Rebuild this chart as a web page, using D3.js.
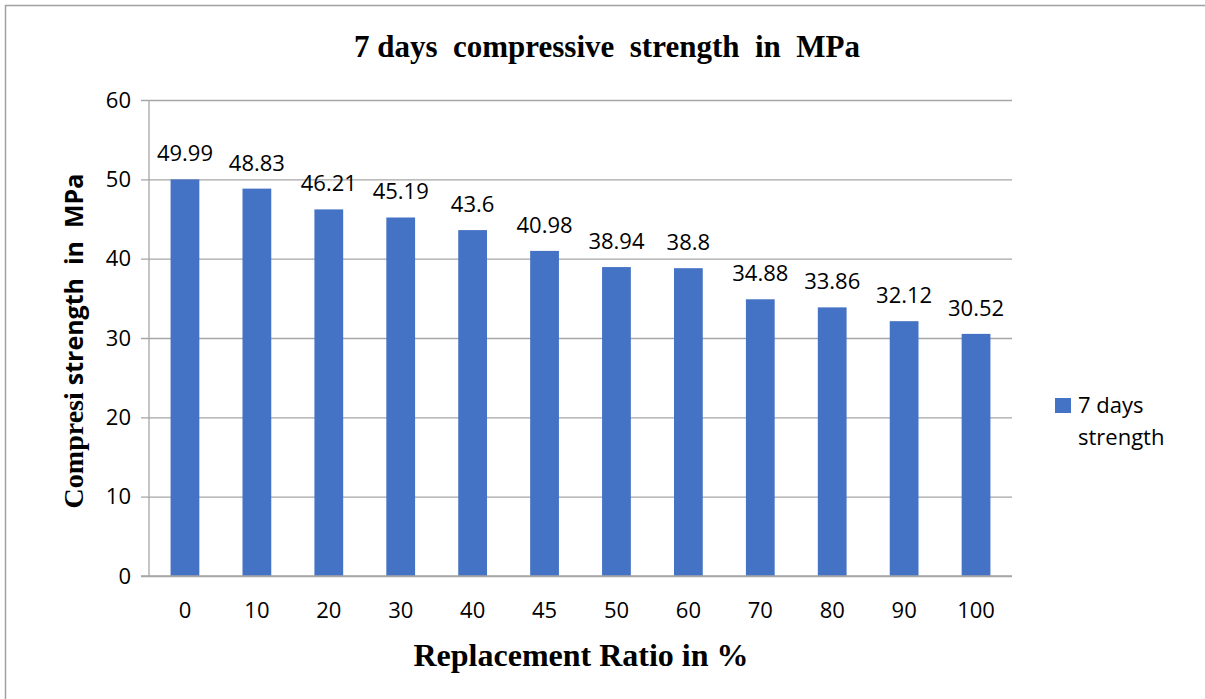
<!DOCTYPE html>
<html>
<head>
<meta charset="utf-8">
<script src="https://cdn.jsdelivr.net/npm/d3@7"></script>
<style>
  body { margin: 0; background: #fff; }
  svg { display: block; }
  text { white-space: pre; }
</style>
</head>
<body>
<div id="chart"></div>
<script>
const width = 1205;
const height = 699;
const margin = { top: 100, right: 193, bottom: 123, left: 149 };

const ratios = ["0", "10", "20", "30", "40", "45", "50", "60", "70", "80", "90", "100"];
const strength = [49.99, 48.83, 46.21, 45.19, 43.6, 40.98, 38.94, 38.8, 34.88, 33.86, 32.12, 30.52];
const yTicks = [0, 10, 20, 30, 40, 50, 60];
const seriesName = ["7 days", "strength"];

const data = ratios.map((r, i) => ({ ratio: r, value: strength[i] }));

const barColor = "#4472C4";
const gridColor = "#a6a6a6";
const sansFont = "'Open Sans', 'Liberation Sans', sans-serif";
const serifFont = "'Liberation Serif', 'Times New Roman', serif";
const labelSize = 22;

const svg = d3.select("#chart")
    .append("svg")
    .attr("width", width)
    .attr("height", height);

// outer frame (only top and left edges visible)
svg.append("path")
    .attr("d", `M5.5,${height} V5.5 H${width}`)
    .attr("fill", "none")
    .attr("stroke", "#a0a0a0")
    .attr("stroke-width", 1.5);

const x = d3.scaleBand()
    .domain(ratios)
    .range([margin.left, width - margin.right])
    .paddingInner(0.6)
    .paddingOuter(0.3);

const y = d3.scaleLinear()
    .domain([0, 60])
    .range([height - margin.bottom, margin.top]);

// grid + y labels
svg.append("g")
    .attr("class", "y-axis")
    .attr("transform", `translate(${margin.left},0)`)
    .call(d3.axisLeft(y).tickValues(yTicks).tickSize(-(width - margin.left - margin.right)).tickPadding(18))
    .call(g => g.select(".domain").remove())
    .call(g => g.selectAll(".tick line")
        .attr("x1", -8)
        .attr("stroke", gridColor)
        .attr("stroke-width", 1.3))
    .call(g => g.selectAll(".tick text")
        .attr("font-family", sansFont)
        .attr("font-size", labelSize)
        .attr("fill", "#000"));

// left axis line
svg.append("line")
    .attr("x1", margin.left).attr("x2", margin.left)
    .attr("y1", margin.top).attr("y2", height - margin.bottom)
    .attr("stroke", gridColor)
    .attr("stroke-width", 1.3);

// bars
svg.append("g")
    .selectAll(".bar")
    .data(data)
    .enter().append("rect")
    .attr("class", "bar")
    .attr("x", d => x(d.ratio))
    .attr("y", d => y(d.value))
    .attr("width", x.bandwidth())
    .attr("height", d => y(0) - y(d.value))
    .attr("fill", barColor);

// baseline on top of bars
svg.append("line")
    .attr("x1", margin.left - 8).attr("x2", width - margin.right)
    .attr("y1", y(0)).attr("y2", y(0))
    .attr("stroke", gridColor)
    .attr("stroke-width", 1.3);

// value labels
svg.append("g")
    .selectAll(".label")
    .data(data)
    .enter().append("text")
    .attr("class", "label")
    .attr("x", d => x(d.ratio) + x.bandwidth() / 2)
    .attr("y", d => y(d.value) - 18)
    .attr("text-anchor", "middle")
    .attr("font-family", sansFont)
    .attr("font-size", labelSize)
    .text(d => d.value);

// x axis labels
svg.append("g")
    .attr("class", "x-axis")
    .attr("transform", `translate(0,${height - margin.bottom})`)
    .call(d3.axisBottom(x).tickSize(0).tickPadding(26))
    .call(g => g.select(".domain").remove())
    .call(g => g.selectAll(".tick text")
        .attr("font-family", sansFont)
        .attr("font-size", labelSize)
        .attr("fill", "#000"));

// title
svg.append("text")
    .attr("x", 607)
    .attr("y", 57)
    .attr("text-anchor", "middle")
    .attr("font-family", serifFont)
    .attr("font-weight", "bold")
    .attr("font-size", 31)
    .text("7 days  compressive  strength  in  MPa");

// x axis title
svg.append("text")
    .attr("x", 581)
    .attr("y", 666)
    .attr("text-anchor", "middle")
    .attr("font-family", serifFont)
    .attr("font-weight", "bold")
    .attr("font-size", 32)
    .text("Replacement Ratio in %");

// y axis title (mixed fonts)
const yTitle = svg.append("text")
    .attr("transform", "translate(83,341) rotate(-90)")
    .attr("text-anchor", "middle")
    .attr("font-weight", "bold")
    .attr("font-size", 28);
yTitle.append("tspan")
    .attr("font-family", serifFont)
    .text("Compresi ");
yTitle.append("tspan")
    .attr("font-family", sansFont)
    .attr("font-size", 25)
    .text("strength  in  MPa");

// legend
const legend = svg.append("g")
    .attr("transform", "translate(1055,398)");
legend.append("rect")
    .attr("width", 16)
    .attr("height", 15)
    .attr("fill", barColor);
legend.selectAll("text")
    .data(seriesName)
    .enter().append("text")
    .attr("x", 23)
    .attr("y", (d, i) => 15 + i * 32)
    .attr("font-family", sansFont)
    .attr("font-size", labelSize)
    .text(d => d);
</script>
</body>
</html>
